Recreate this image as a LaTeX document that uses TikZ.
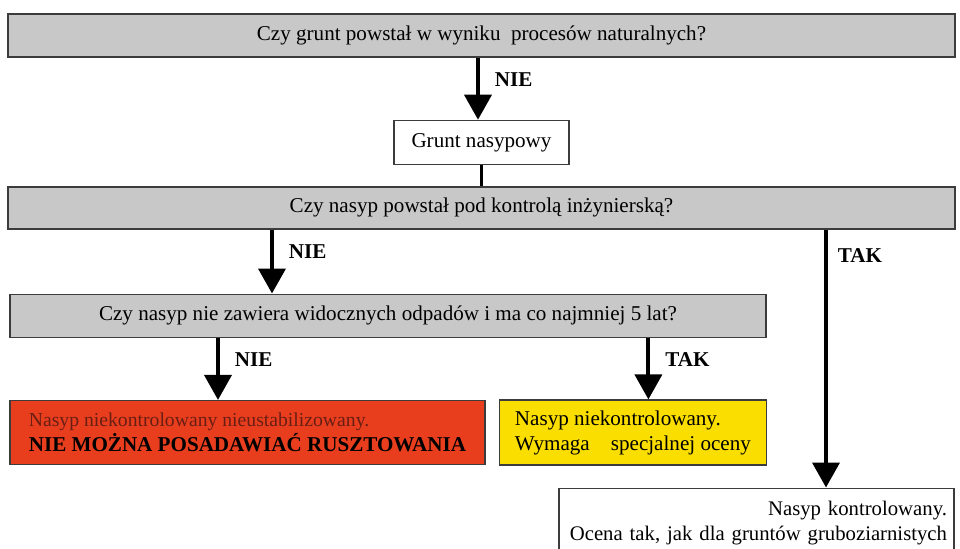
\documentclass[tikz,border=0pt]{standalone}
\usepackage{fontspec}
\setmainfont{Liberation Serif}
\usepackage{tikz}
\usetikzlibrary{arrows.meta,positioning}
\definecolor{qgray}{RGB}{200,200,200}
\definecolor{boxred}{RGB}{232,62,30}
\definecolor{boxyellow}{RGB}{250,222,0}
\definecolor{textred}{RGB}{105,30,20}
\definecolor{edgegray}{RGB}{60,60,60}
\tikzset{
  basebox/.style={rectangle,draw=edgegray,line width=0.8pt,font=\fontsize{12}{14.2}\selectfont,inner sep=0pt},
  qnode/.style={basebox,fill=qgray,minimum height=0.86cm},
  plainnode/.style={basebox,fill=white},
  rednode/.style={basebox,fill=boxred,align=left,minimum width=9.5cm,minimum height=1.28cm},
  yellownode/.style={basebox,fill=boxyellow,align=left,minimum width=5.34cm,minimum height=1.3cm},
  endnode/.style={basebox,fill=white,align=right,text width=7.62cm,inner xsep=0.14cm,minimum height=1.4cm,font=\fontsize{11.8}{14.2}\selectfont},
  arr/.style={-{Triangle[length=0.5cm,width=0.54cm]},line width=2.2pt,black},
  lbl/.style={font=\fontsize{12}{14}\selectfont\bfseries,inner sep=0pt,anchor=north west,xshift=0.3cm,yshift=-0.26cm}
}

\begin{document}
\begin{tikzpicture}
  % page frame: q1 sits at the origin
  \useasboundingbox (-9.63,0.71) rectangle ++(19.2,-10.98);

  \node[qnode,minimum width=18.94cm] (q1) {Czy grunt powstał w wyniku\ \ procesów naturalnych?};
  \node[plainnode,minimum width=3.5cm,minimum height=0.88cm,below=1.24cm of q1] (grunt) {Grunt nasypowy};
  \node[qnode,minimum width=18.94cm,minimum height=0.84cm,below=0.42cm of grunt] (q2) {Czy nasyp powstał pod kontrolą inżynierską?};
  \node[qnode,minimum width=15.12cm,below=1.28cm of q2.south west,anchor=north west,xshift=0.04cm] (q3)
      {Czy nasyp nie zawiera widocznych odpadów i ma co najmniej 5 lat?};
  \node[rednode,below=1.24cm of q3.south west,anchor=north west] (nieust)
      {{\fontsize{11.2}{13.6}\selectfont\color{textred}Nasyp niekontrolowany nieustabilizowany.}\\\textbf{NIE MOŻNA POSADAWIAĆ RUSZTOWANIA}};
  \node[yellownode,right=0.26cm of nieust] (ocena) {Nasyp niekontrolowany.\\Wymaga\quad specjalnej oceny};
  \node[endnode,below=5.16cm of q2.south east,anchor=north east,xshift=-0.02cm] (kontr)
      {Nasyp kontrolowany.\\Ocena tak, jak dla gruntów gruboziarnistych};

  \draw[arr] ([xshift=-0.07cm]grunt.north |- q1.south) -- node[lbl,pos=0]{NIE} ([xshift=-0.07cm]grunt.north);
  \draw[line width=2.2pt] (grunt.south) -- (grunt.south |- q2.north);
  \draw[arr] ([xshift=-2.32cm]q3.north |- q2.south) -- node[lbl,pos=0]{NIE} ([xshift=-2.32cm]q3.north);
  \draw[arr] ([xshift=1.39cm]kontr.north |- q2.south) -- node[lbl,pos=0,yshift=-0.08cm,xshift=-0.1cm]{TAK} ([xshift=1.39cm]kontr.north);
  \draw[arr] ([xshift=-0.59cm]nieust.north |- q3.south) -- node[lbl,pos=0]{NIE} ([xshift=-0.59cm]nieust.north);
  \draw[arr] ([xshift=0.31cm]ocena.north |- q3.south) -- node[lbl,pos=0]{TAK} ([xshift=0.31cm]ocena.north);
\end{tikzpicture}
\end{document}
